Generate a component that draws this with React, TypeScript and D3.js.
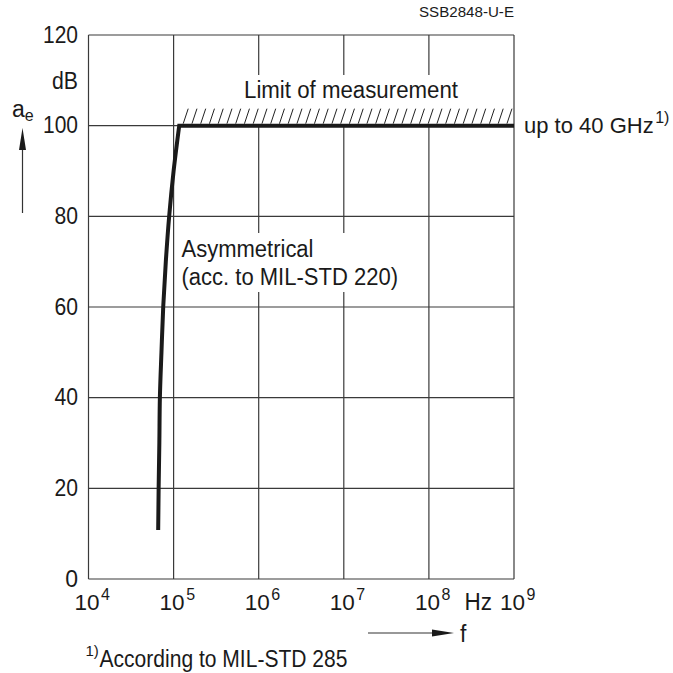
import React from "react";
import * as d3 from "d3";

// ---- data ----
const yTicks = [0, 20, 40, 60, 80, 100, 120];
const xExponents = [4, 5, 6, 7, 8, 9];
// Asymmetrical attenuation curve (frequency in Hz, attenuation in dB)
const curveFreq = [65900, 66700, 68000, 69000, 72000, 75500, 81000, 88700, 100000, 116400];
const curveDb = [10.8, 20, 30, 40, 50, 60, 70, 80, 90, 100];
const limitFreq = [116400, 1e9];
const limitDb = [100, 100];

const W = 673;
const H = 673;
const FONT = "'Liberation Sans', Arial, Helvetica, sans-serif";
const INK = "#1a1a1a";

function T(props: any) {
  const { len, children, size, ...rest } = props;
  return (
    <text
      fontSize={size || 23}
      fill={INK}
      textLength={len}
      lengthAdjust={len ? "spacingAndGlyphs" : undefined}
      {...rest}
    >
      {children}
    </text>
  );
}

export default function App() {
  const x = d3.scaleLog().domain([1e4, 1e9]).range([88.5, 514]);
  const y = d3.scaleLinear().domain([0, 120]).range([579, 35]);

  const rise = curveFreq.map((f, i) => [x(f), y(curveDb[i])] as [number, number]);
  const risePath = d3.line().curve(d3.curveMonotoneY)(rise) || "";
  const flat = limitFreq.map((f, i) => [x(f), y(limitDb[i])] as [number, number]);
  const fullPath = risePath + "L" + flat[1][0] + "," + flat[1][1];

  // hatch along limit of measurement
  const hx0 = x(limitFreq[0]) + 4;
  const hx1 = x(limitFreq[1]);
  const hy = y(100) - 2;
  const hatchH = 15;
  const hatchDx = 5;
  const hatch = d3.range(hx0, hx1 - hatchDx + 1, 8.75);

  const gridColor = "#3a3a3a";

  return (
    <svg
      width={W}
      height={H}
      style={{ position: "absolute", left: 0, top: 0, background: "#fff" }}
      fontFamily={FONT}
    >
      <rect x={0} y={0} width={W} height={H} fill="#fff" />
      {/* grid */}
      {yTicks.map((t) => (
        <line key={"gy" + t} x1={x(1e4)} x2={x(1e9)} y1={y(t)} y2={y(t)} stroke={gridColor} strokeWidth={1.2} />
      ))}
      {xExponents.map((e) => (
        <line key={"gx" + e} x1={x(Math.pow(10, e))} x2={x(Math.pow(10, e))} y1={y(0)} y2={y(120)} stroke={gridColor} strokeWidth={1.2} />
      ))}
      {/* white backgrounds behind labels */}
      <rect x={x(limitFreq[0]) + 1} y={75} width={x(1e9) - x(limitFreq[0]) - 2} height={y(100) - 75 - 1} fill="#fff" />
      <rect x={177} y={233} width={224} height={59} fill="#fff" />

      {/* hatch */}
      {hatch.map((hxp, i) => (
        <line key={"h" + i} x1={hxp} y1={hy} x2={hxp + hatchDx} y2={hy - hatchH} stroke="#222" strokeWidth={1} />
      ))}

      {/* curve */}
      <path d={fullPath} fill="none" stroke={INK} strokeWidth={4} strokeLinejoin="miter" />

      {/* y tick labels */}
      {yTicks.map((t) => (
        <T key={"yl" + t} x={78} y={y(t) + 7.5} textAnchor="end" len={t === 0 ? undefined : t < 100 ? 23.5 : 35}>
          {t}
        </T>
      ))}
      <T x={78} y={88.5} textAnchor="end" len={26}>dB</T>
      <text x={12} y={116.5} fontSize={23} fill={INK}>
        a<tspan fontSize={16} dy={4}>e</tspan>
      </text>
      <line x1={22.5} x2={22.5} y1={213} y2={148} stroke="#333" strokeWidth={1.2} />
      <path d="M22.5,128 L19,150 L26,150 Z" fill={INK} />

      {/* x tick labels */}
      {xExponents.map((e) => {
        const gx = x(Math.pow(10, e));
        return (
          <text key={"xl" + e} x={gx - 14} y={609.5} fontSize={22.5} fill={INK}>
            10<tspan fontSize={16} dx={1.5} dy={-10}>{e}</tspan>
          </text>
        );
      })}
      <T x={464.5} y={609.5} len={27.5}>Hz</T>
      <line x1={368} x2={440} y1={633} y2={633} stroke="#333" strokeWidth={1.2} />
      <path d="M454,633 L432,629.5 L432,636.5 Z" fill={INK} />
      <T x={460} y={641.5}>f</T>

      {/* annotations */}
      <T x={514} y={17} textAnchor="end" size={15} len={95}>SSB2848-U-E</T>
      <T x={244} y={98.3} len={214}>Limit of measurement</T>
      <text x={524} y={133.3} fontSize={22} fill={INK}>
        up to 40 GHz<tspan fontSize={16} dx={1.5} dy={-10}>1)</tspan>
      </text>
      <T x={181.5} y={256.7} len={132}>Asymmetrical</T>
      <T x={181.5} y={285} len={216.5}>(acc. to MIL-STD 220)</T>
      <T x={85.5} y={656} size={15}>1)</T>
      <T x={99.5} y={666.5} len={248}>According to MIL-STD 285</T>
    </svg>
  );
}
